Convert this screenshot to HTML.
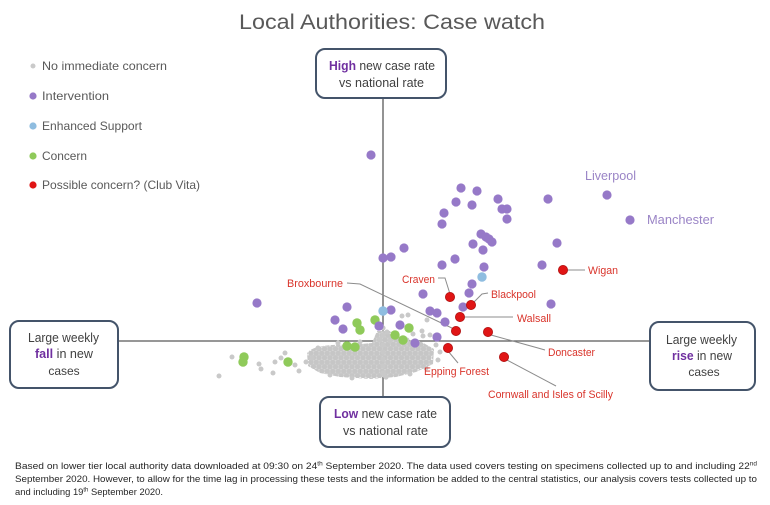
<!DOCTYPE html>
<html>
<head>
<meta charset="utf-8">
<style>
html,body{margin:0;padding:0;background:#fff;}
svg{display:block;}
text{font-family:"Liberation Sans",sans-serif;}
</style>
</head>
<body>
<svg width="770" height="505" viewBox="0 0 770 505" xmlns="http://www.w3.org/2000/svg">
<defs>
<pattern id="gp" x="0" y="0" width="11" height="9" patternUnits="userSpaceOnUse">
<circle cx="2.75" cy="2.25" r="2.6" fill="#c6c6c6"/>
<circle cx="8.25" cy="2.25" r="2.6" fill="#c6c6c6"/>
<circle cx="0" cy="6.75" r="2.6" fill="#c6c6c6"/>
<circle cx="5.5" cy="6.75" r="2.6" fill="#c6c6c6"/>
<circle cx="11" cy="6.75" r="2.6" fill="#c6c6c6"/>
</pattern>
</defs>
<rect width="770" height="505" fill="#fff"/>

<!-- Title -->
<text x="239" y="29" font-size="21" fill="#595959" textLength="306" lengthAdjust="spacingAndGlyphs">Local Authorities: Case watch</text>

<!-- Legend -->
<circle cx="33" cy="66" r="2.5" fill="#cacaca"/>
<text x="42" y="70" font-size="12" fill="#595959" textLength="125" lengthAdjust="spacingAndGlyphs">No immediate concern</text>
<circle cx="33" cy="96" r="3.6" fill="#9679c8"/>
<text x="42" y="100" font-size="12" fill="#595959" textLength="67" lengthAdjust="spacingAndGlyphs">Intervention</text>
<circle cx="33" cy="126" r="3.6" fill="#8fbde0"/>
<text x="42" y="130" font-size="12" fill="#595959" textLength="100" lengthAdjust="spacingAndGlyphs">Enhanced Support</text>
<circle cx="33" cy="156" r="3.6" fill="#8fca5a"/>
<text x="42" y="160" font-size="12" fill="#595959" textLength="45" lengthAdjust="spacingAndGlyphs">Concern</text>
<circle cx="33" cy="185" r="3.6" fill="#e01515"/>
<text x="42" y="189" font-size="12" fill="#595959" textLength="158" lengthAdjust="spacingAndGlyphs">Possible concern? (Club Vita)</text>

<!-- Axes -->
<line x1="118" y1="341" x2="650" y2="341" stroke="#595959" stroke-width="1.3"/>
<line x1="383" y1="98" x2="383" y2="397" stroke="#595959" stroke-width="1.3"/>

<!-- Leader lines -->
<g stroke="#8c8c8c" stroke-width="1" fill="none">
<polyline points="347,283 360,284 456,330"/>
<polyline points="438,278 445,278 450,294"/>
<polyline points="488,293 482,294 473,303"/>
<polyline points="465,317 513,317"/>
<polyline points="491,335 538,348 545,350"/>
<polyline points="448,351 458,363"/>
<polyline points="507,360 556,386"/>
<polyline points="567,270 585,270"/>
</g>

<!-- Gray cluster -->
<path d="M309,352 C314,347 330,346 350,346 L372,344 L378,332 L389,332 L394,340 L420,342 L432,349 L431,363 L415,371 L396,376 L370,378 L340,376 L321,372 L310,365 Z" fill="#d4d4d4"/>
<path d="M307,353 C312,346 330,344 350,345 L372,343 L377,331 L390,331 L395,339 L420,341 L434,349 L433,364 L416,372 L396,377 L370,379 L340,377 L320,373 L308,366 Z" fill="url(#gp)"/>
<g fill="#c9c9c9">
<circle cx="232" cy="357" r="2.5"/><circle cx="219" cy="376" r="2.5"/><circle cx="259" cy="364" r="2.5"/>
<circle cx="261" cy="369" r="2.5"/><circle cx="273" cy="373" r="2.5"/><circle cx="275" cy="362" r="2.5"/>
<circle cx="281" cy="358" r="2.5"/><circle cx="285" cy="353" r="2.5"/><circle cx="295" cy="365" r="2.5"/>
<circle cx="299" cy="371" r="2.5"/><circle cx="306" cy="362" r="2.5"/><circle cx="312" cy="358" r="2.6"/>
<circle cx="402" cy="316" r="2.5"/><circle cx="408" cy="315" r="2.5"/><circle cx="413" cy="334" r="2.5"/>
<circle cx="422" cy="331" r="2.5"/><circle cx="427" cy="320" r="2.5"/><circle cx="430" cy="335" r="2.5"/>
<circle cx="423" cy="336" r="2.5"/><circle cx="387" cy="332" r="2.5"/><circle cx="380" cy="340" r="2.6"/>
<circle cx="390" cy="341" r="2.6"/><circle cx="383" cy="328" r="2.6"/><circle cx="383" cy="335" r="2.6"/>
<circle cx="383" cy="345" r="2.6"/><circle cx="383" cy="352" r="2.6"/><circle cx="383" cy="359" r="2.6"/>
<circle cx="383" cy="366" r="2.6"/><circle cx="383" cy="373" r="2.6"/><circle cx="386" cy="377" r="2.6"/>
<circle cx="436" cy="345" r="2.5"/><circle cx="440" cy="352" r="2.5"/><circle cx="438" cy="360" r="2.5"/>
<circle cx="426" cy="368" r="2.5"/><circle cx="410" cy="374" r="2.5"/><circle cx="352" cy="378" r="2.5"/>
<circle cx="330" cy="375" r="2.5"/><circle cx="318" cy="348" r="2.5"/><circle cx="338" cy="343" r="2.5"/>
<circle cx="360" cy="342" r="2.5"/><circle cx="397" cy="338" r="2.5"/><circle cx="407" cy="340" r="2.5"/>
</g>

<!-- Green -->
<g fill="#8fca5a">
<circle cx="357" cy="323" r="4.7"/><circle cx="360" cy="330" r="4.7"/><circle cx="375" cy="320" r="4.7"/>
<circle cx="395" cy="335" r="4.7"/><circle cx="403" cy="340" r="4.7"/><circle cx="409" cy="328" r="4.7"/>
<circle cx="347" cy="346" r="4.7"/><circle cx="355" cy="347" r="4.7"/><circle cx="244" cy="357" r="4.7"/>
<circle cx="243" cy="362" r="4.7"/><circle cx="288" cy="362" r="4.7"/>
</g>

<!-- Purple -->
<g fill="#9679c8">
<circle cx="371" cy="155" r="4.6"/>
<circle cx="461" cy="188" r="4.6"/><circle cx="477" cy="191" r="4.6"/><circle cx="456" cy="202" r="4.6"/>
<circle cx="472" cy="205" r="4.6"/><circle cx="498" cy="199" r="4.6"/><circle cx="502" cy="209" r="4.6"/>
<circle cx="507" cy="209" r="4.6"/><circle cx="507" cy="219" r="4.6"/><circle cx="444" cy="213" r="4.6"/>
<circle cx="442" cy="224" r="4.6"/><circle cx="548" cy="199" r="4.6"/><circle cx="607" cy="195" r="4.6"/>
<circle cx="630" cy="220" r="4.6"/>
<circle cx="481" cy="234" r="4.6"/><circle cx="486" cy="237" r="4.6"/><circle cx="489" cy="239" r="4.6"/>
<circle cx="492" cy="242" r="4.6"/><circle cx="473" cy="244" r="4.6"/><circle cx="483" cy="250" r="4.6"/>
<circle cx="404" cy="248" r="4.6"/><circle cx="391" cy="257" r="4.6"/><circle cx="383" cy="258" r="4.6"/>
<circle cx="557" cy="243" r="4.6"/><circle cx="455" cy="259" r="4.6"/><circle cx="442" cy="265" r="4.6"/>
<circle cx="484" cy="267" r="4.6"/><circle cx="542" cy="265" r="4.6"/><circle cx="472" cy="284" r="4.6"/>
<circle cx="423" cy="294" r="4.6"/><circle cx="469" cy="293" r="4.6"/><circle cx="463" cy="307" r="4.6"/>
<circle cx="551" cy="304" r="4.6"/>
<circle cx="257" cy="303" r="4.6"/><circle cx="347" cy="307" r="4.6"/><circle cx="335" cy="320" r="4.6"/>
<circle cx="343" cy="329" r="4.6"/><circle cx="391" cy="310" r="4.6"/><circle cx="379" cy="326" r="4.6"/>
<circle cx="430" cy="311" r="4.6"/><circle cx="437" cy="313" r="4.6"/><circle cx="445" cy="322" r="4.6"/>
<circle cx="400" cy="325" r="4.6"/><circle cx="437" cy="337" r="4.6"/><circle cx="415" cy="343" r="4.6"/>
</g>

<!-- Blue -->
<g fill="#8fbde0">
<circle cx="383" cy="311" r="4.7"/><circle cx="482" cy="277" r="4.7"/>
</g>

<!-- Red -->
<g fill="#e01515" stroke="#b01010" stroke-width="0.8">
<circle cx="450" cy="297" r="4.6"/><circle cx="471" cy="305" r="4.6"/><circle cx="460" cy="317" r="4.6"/>
<circle cx="456" cy="331" r="4.6"/><circle cx="488" cy="332" r="4.6"/><circle cx="448" cy="348" r="4.6"/>
<circle cx="504" cy="357" r="4.6"/><circle cx="563" cy="270" r="4.6"/>
</g>

<!-- Red labels -->
<g font-size="11" fill="#d9342b">
<text x="287" y="287" textLength="56" lengthAdjust="spacingAndGlyphs">Broxbourne</text>
<text x="402" y="283" textLength="33" lengthAdjust="spacingAndGlyphs">Craven</text>
<text x="491" y="298" textLength="45" lengthAdjust="spacingAndGlyphs">Blackpool</text>
<text x="517" y="322" textLength="34" lengthAdjust="spacingAndGlyphs">Walsall</text>
<text x="548" y="356" textLength="47" lengthAdjust="spacingAndGlyphs">Doncaster</text>
<text x="424" y="375" textLength="65" lengthAdjust="spacingAndGlyphs">Epping Forest</text>
<text x="488" y="398" textLength="125" lengthAdjust="spacingAndGlyphs">Cornwall and Isles of Scilly</text>
<text x="588" y="274" textLength="30" lengthAdjust="spacingAndGlyphs">Wigan</text>
</g>

<!-- Purple labels -->
<text x="585" y="180" font-size="13" fill="#9a84c6" textLength="51" lengthAdjust="spacingAndGlyphs">Liverpool</text>
<text x="647" y="224" font-size="13" fill="#9a84c6" textLength="67" lengthAdjust="spacingAndGlyphs">Manchester</text>

<!-- Boxes -->
<g fill="#fff" stroke="#44546a" stroke-width="2">
<rect x="316" y="49" width="130" height="49" rx="9"/>
<rect x="320" y="397" width="130" height="50" rx="9"/>
<rect x="10" y="321" width="108" height="67" rx="9"/>
<rect x="650" y="322" width="105" height="68" rx="9"/>
</g>

<g font-size="12.5" fill="#404040">
<text x="329" y="70" textLength="106" lengthAdjust="spacingAndGlyphs"><tspan font-weight="bold" fill="#7030a0">High</tspan> new case rate</text>
<text x="339" y="87" textLength="85" lengthAdjust="spacingAndGlyphs">vs national rate</text>
<text x="334" y="418" textLength="103" lengthAdjust="spacingAndGlyphs"><tspan font-weight="bold" fill="#7030a0">Low</tspan> new case rate</text>
<text x="343" y="435" textLength="85" lengthAdjust="spacingAndGlyphs">vs national rate</text>
<text x="28" y="342" textLength="71" lengthAdjust="spacingAndGlyphs">Large weekly</text>
<text x="35" y="358" textLength="58" lengthAdjust="spacingAndGlyphs"><tspan font-weight="bold" fill="#7030a0">fall</tspan> in new</text>
<text x="64" y="375" text-anchor="middle" font-size="12">cases</text>
<text x="666" y="344" textLength="71" lengthAdjust="spacingAndGlyphs">Large weekly</text>
<text x="672" y="360" textLength="60" lengthAdjust="spacingAndGlyphs"><tspan font-weight="bold" fill="#7030a0">rise</tspan> in new</text>
<text x="704" y="376" text-anchor="middle" font-size="12">cases</text>
</g>

<!-- Footer -->
<g font-size="9.5" fill="#262626">
<text x="15" y="469" textLength="742" lengthAdjust="spacingAndGlyphs">Based on lower tier local authority data downloaded at 09:30 on 24<tspan font-size="6" dy="-3.5">th</tspan><tspan dy="3.5"> September 2020. The data used covers testing on specimens collected up to and including 22</tspan><tspan font-size="6" dy="-3.5">nd</tspan></text>
<text x="15" y="482" textLength="742" lengthAdjust="spacingAndGlyphs">September 2020. However, to allow for the time lag in processing these tests and the information be added to the central statistics, our analysis covers tests collected up to</text>
<text x="15" y="495" textLength="148" lengthAdjust="spacingAndGlyphs">and including 19<tspan font-size="6" dy="-3.5">th</tspan><tspan dy="3.5"> September 2020.</tspan></text>
</g>
</svg>
</body>
</html>
